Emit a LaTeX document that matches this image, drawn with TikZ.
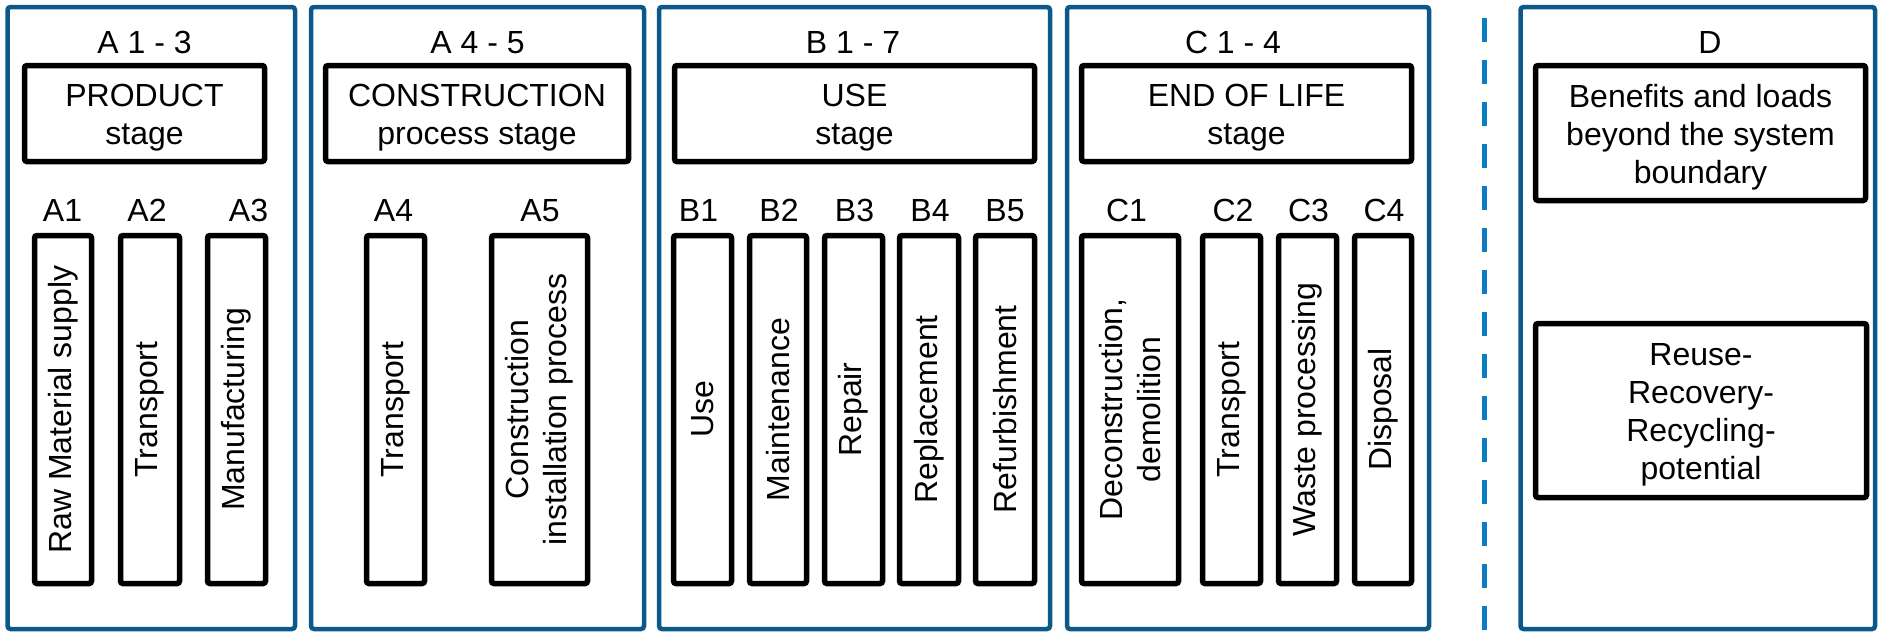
\documentclass[tikz,border=0pt]{standalone}
\usepackage{fontspec}
\setmainfont{Liberation Sans}
\definecolor{panelblue}{HTML}{0B5989}
\definecolor{sepblue}{HTML}{0A7CC1}
\newcommand\lift{\rule{0pt}{31pt}}
\tikzset{
  panel/.style={draw=panelblue, line width=4.5pt, rounded corners=3pt, inner sep=0pt},
  stagebox/.style={draw=black, line width=5.5pt, rounded corners=2.5pt, align=center, inner sep=0pt,
    font=\fontsize{32}{38}\selectfont},
  subbox/.style={stagebox, rotate=90, minimum width=348pt},
  lbl/.style={anchor=base, inner sep=0pt, font=\fontsize{32}{38}\selectfont},
  sep/.style={draw=sepblue, line width=5.5pt, dash pattern=on 24pt off 18pt, dash phase=24pt}
}
\begin{document}
\begin{tikzpicture}[x=1pt,y=-1pt]
\useasboundingbox (0,0) rectangle (1878,632);
% panels
\node[panel, minimum width=287.5pt, minimum height=622pt] (P1) at (151.25,318) {};
\node[panel, minimum width=333pt, minimum height=622pt] (P2) at (477.5,318) {};
\node[panel, minimum width=391pt, minimum height=622pt] (P3) at (854.5,318) {};
\node[panel, minimum width=362pt, minimum height=622pt] (P4) at (1248,318) {};
\node[panel, minimum width=354.5pt, minimum height=622pt] (PD) at (1697.75,318) {};
% separator
\coordinate (dtop) at (1484.5,0);
\coordinate (dbot) at (1484.5,632);
\draw[sep] (dtop) -- (dbot);
% headers
\node[lbl] (h1) at (144.5,53) {A 1 - 3};
\node[lbl] (h2) at (477.5,53) {A 4 - 5};
\node[lbl] (h3) at (853,53) {B 1 - 7};
\node[lbl] (h4) at (1233,53) {C 1 - 4};
\node[lbl] (hD) at (1710,53) {D};
% stage boxes
\node[stagebox, minimum width=240pt, minimum height=96pt] (S1) at (144.5,113.5) {\lift PRODUCT\\stage};
\node[stagebox, minimum width=303pt, minimum height=96pt] (S2) at (477,113.5) {\lift CONSTRUCTION\\process stage};
\node[stagebox, minimum width=360pt, minimum height=96pt] (S3) at (854.5,113.5) {\lift USE\\stage};
\node[stagebox, minimum width=330pt, minimum height=96pt] (S4) at (1246.5,113.5) {\lift END OF LIFE\\stage};
\node[stagebox, minimum width=330pt, minimum height=135pt] (SD1) at (1700.5,133) {\lift Benefits and loads\\beyond the system\\boundary};
\node[stagebox, minimum width=331pt, minimum height=174pt] (SD2) at (1701,410.5) {\lift Reuse-\\Recovery-\\Recycling-\\potential};
% module labels
\node[lbl] (lA1) at (62.5,221) {A1};
\node[lbl] (lA2) at (147,221) {A2};
\node[lbl] (lA3) at (248.5,221) {A3};
\node[lbl] (lA4) at (393.5,221) {A4};
\node[lbl] (lA5) at (540,221) {A5};
\node[lbl] (lB1) at (698.5,221) {B1};
\node[lbl] (lB2) at (779,221) {B2};
\node[lbl] (lB3) at (854.5,221) {B3};
\node[lbl] (lB4) at (930,221) {B4};
\node[lbl] (lB5) at (1005,221) {B5};
\node[lbl] (lC1) at (1126.5,221) {C1};
\node[lbl] (lC2) at (1233,221) {C2};
\node[lbl] (lC3) at (1308.5,221) {C3};
\node[lbl] (lC4) at (1384,221) {C4};
% module boxes
\node[subbox, minimum height=57pt] (A1) at (63,409.5) {Raw Material supply};
\node[subbox, minimum height=59pt] (A2) at (150,409.5) {Transport};
\node[subbox, minimum height=58pt] (A3) at (236.5,409.5) {Manufacturing};
\node[subbox, minimum height=58pt] (A4) at (395.5,409.5) {Transport};
\node[subbox, minimum height=96pt] (A5) at (539.5,409.5) {Construction\\installation process};
\node[subbox, minimum height=58pt] (B1) at (702.5,409.5) {Use};
\node[subbox, minimum height=57pt] (B2) at (778,409.5) {Maintenance};
\node[subbox, minimum height=58pt] (B3) at (853.5,409.5) {Repair};
\node[subbox, minimum height=59pt] (B4) at (929,409.5) {Replacement};
\node[subbox, minimum height=59pt] (B5) at (1005,409.5) {Refurbishment};
\node[subbox, minimum height=97pt] (C1) at (1130,409.5) {Deconstruction,\\demolition};
\node[subbox, minimum height=58pt] (C2) at (1231.5,409.5) {Transport};
\node[subbox, minimum height=58pt] (C3) at (1307.5,409.5) {Waste processing};
\node[subbox, minimum height=57pt] (C4) at (1383,409.5) {Disposal};
\end{tikzpicture}
\end{document}
